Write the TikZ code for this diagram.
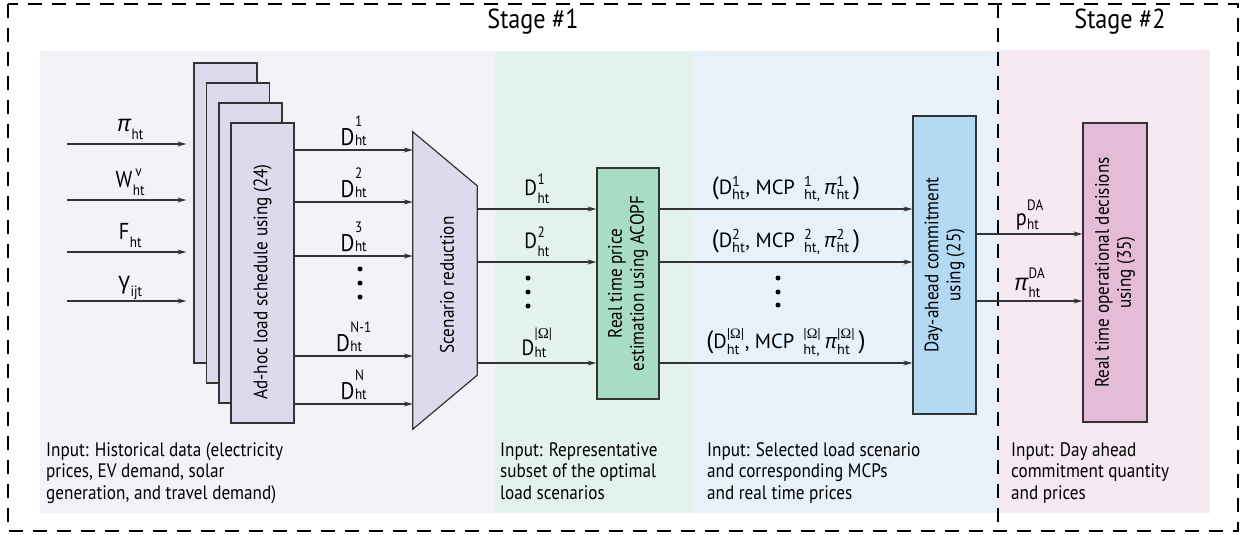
\documentclass[tikz,border=0pt]{standalone}
\usepackage{fontspec}
\usepackage{amsmath}
\setmainfont{PT Sans}[FakeStretch=0.88]
\newfontfamily\ptw{PT Sans}
\newfontfamily\gkfont{Open Sans}
\newfontfamily\omfont{Liberation Serif}
\usetikzlibrary{arrows.meta,calc}

\definecolor{lavbox}{HTML}{DCDAEC}
\definecolor{greenbox}{HTML}{A9DCC5}
\definecolor{bluebox}{HTML}{B4DAF3}
\definecolor{pinkbox}{HTML}{E4BCD8}
\definecolor{lavpanel}{HTML}{F3F2F8}
\definecolor{greenpanel}{HTML}{E3F3EC}
\definecolor{bluepanel}{HTML}{E7F1FA}
\definecolor{pinkpanel}{HTML}{F6E9F2}
\definecolor{edge}{HTML}{333333}

% symbols
\newcommand\gpi{{\gkfont\itshape π}}
\newcommand\ggam{{\gkfont γ}}
\newcommand\Om{|{\omfont Ω}|}
% main symbol with a stacked superscript/subscript; #4 lowers the stack
\newcommand\stk[4]{#1\kern0.5pt\raisebox{-#4}{\fontsize{15}{19}\selectfont
  \begin{tabular}[b]{@{}l@{}}#2\\#3\end{tabular}}}
% scenario triple (D, MCP, pi)
\newcommand\sx[3]{#1$^{\text{#2}}_{\text{#3}}$}
\newcommand\trip[1]{{\fontsize{25}{25}\selectfont(}\sx{D}{#1}{ht}, MCP\;\,$^{\text{#1}}_{\text{ht,}}$\,\sx{\gpi}{#1}{ht}\,{\fontsize{25}{25}\selectfont)}}

\begin{document}
\begin{tikzpicture}[x=1pt,y=-1pt,
  arr/.style={draw=edge,line width=1.1pt,-{Stealth[length=9pt,width=5pt,inset=3pt,fill=gray!45]}},
  boxbase/.style={draw=edge,line width=1.2pt,inner sep=0pt},
  ahbox/.style={boxbase,fill=lavbox,minimum width=63pt,minimum height=300pt},
  rtext/.style={rotate=90,align=center,font=\fontsize{19.5}{22}\selectfont,inner sep=0pt},
  lbl/.style={font=\fontsize{24}{26}\selectfont,inner sep=0pt,midway,anchor=base},
  ilbl/.style={font=\fontsize{23}{26}\selectfont,inner sep=0pt,midway,anchor=base,yshift=13pt},
  glbl/.style={font=\fontsize{22}{26}\selectfont,inner sep=0pt,midway,anchor=base},
  tlbl/.style={font=\ptw\fontsize{20.5}{24}\selectfont,inner sep=0pt,midway,anchor=base,yshift=15pt},
  note/.style={font=\fontsize{19.5}{21.5}\selectfont,align=left,anchor=north west,inner sep=0pt},
  stage/.style={font=\fontsize{27.5}{30}\selectfont,anchor=base,inner sep=0pt},
  border/.style={draw=black,line width=2pt,dash pattern=on 14pt off 10pt},
  vdot/.style={circle,fill=black,inner sep=0pt,minimum size=5pt}]

\useasboundingbox (0,0) rectangle (1242,535);

% coloured stage panels
\fill[lavpanel]   (40,51)  rectangle (495,513);
\fill[greenpanel] (495,51) rectangle (693,513);
\fill[bluepanel]  (693,51) rectangle (998,513);
\fill[pinkpanel]  (998,50) rectangle (1210,513);

% stage frames
\draw[border] (8,4) rectangle (1238,531);
\draw[border] (998,4) -- (998,531);
\node[stage] (st1) at (533,29) {Stage \#1};
\node[stage] (st2) at (1120,29) {Stage \#2};

% stacked ad-hoc schedule boxes
\node[ahbox] (b1) at (225.5,213) {};
\node[ahbox] (b2) at (238,233) {};
\node[ahbox] (b3) at (250.5,253) {};
\node[ahbox] (b4) at (262.5,273) {};
\node[rtext] (t4) at (262.5,282) {Ad-hoc load schedule using (24)};

% input data arrows
\coordinate (in1) at (67,144);
\coordinate (in2) at (67,200);
\coordinate (in3) at (67,252);
\coordinate (in4) at (67,301);
\draw[arr,shorten >=7pt] (in1) -- (in1 -| b1.west) node[ilbl] (lin1) {\stk{\gpi}{}{ht}{8pt}};
\draw[arr,shorten >=7pt] (in2) -- (in2 -| b1.west) node[ilbl] (lin2) {\stk{W}{\,v}{ht}{8pt}};
\draw[arr,shorten >=7pt] (in3) -- (in3 -| b1.west) node[ilbl] (lin3) {\stk{F}{}{ht}{8pt}};
\draw[arr,shorten >=7pt] (in4) -- (in4 -| b1.west) node[ilbl] (lin4) {\stk{\ggam}{}{ijt}{8pt}};

% scenario reduction trapezoid
\node[inner sep=0pt,minimum width=64pt,minimum height=297pt] (sr) at (445,280.5) {};
\draw[draw=edge,line width=1.2pt,fill=lavbox]
  (sr.north west) -- ($(sr.north east)+(0,54)$) -- ($(sr.south east)+(0,-54)$)
  -- (sr.south west) -- cycle;
\node[rtext] (tsr) at (447,285) {Scenario reduction};

% load scenarios into the reduction
\draw[arr] (b4.east |- 0,150) -- (sr.west |- 0,150) node[lbl,yshift=5pt] (d1) {\stk{D}{1}{ht}{0pt}};
\draw[arr] (b4.east |- 0,202) -- (sr.west |- 0,202) node[lbl,yshift=5pt] (d2) {\stk{D}{2}{ht}{0pt}};
\draw[arr] (b4.east |- 0,256) -- (sr.west |- 0,256) node[lbl,yshift=5pt] (d3) {\stk{D}{3}{ht}{0pt}};
\draw[arr] (b4.east |- 0,356) -- (sr.west |- 0,356) node[lbl,yshift=5pt] (dn1) {\stk{D}{N-1}{ht}{0pt}};
\draw[arr] (b4.east |- 0,404) -- (sr.west |- 0,404) node[lbl,yshift=5pt] (dn) {\stk{D}{N}{ht}{0pt}};
\node[vdot] (v1a) at (360,269) {};
\node[vdot] (v1b) at (360,283) {};
\node[vdot] (v1c) at (360,297) {};

% real time price estimation
\node[boxbase,fill=greenbox,minimum width=62pt,minimum height=231pt] (rt) at (628,283.5) {};
\node[rtext] (trt) at (rt.center) {Real time price\\estimation using ACOPF};
\draw[arr] (sr.east |- 0,209) -- (rt.west |- 0,209) node[glbl,yshift=14pt] (r1) {\stk{D}{1}{ht}{8pt}};
\draw[arr] (sr.east |- 0,262) -- (rt.west |- 0,262) node[glbl,yshift=14pt] (r2) {\stk{D}{2}{ht}{8pt}};
\draw[arr] (sr.east |- 0,363) -- (rt.west |- 0,363) node[glbl,yshift=8pt] (r3) {\stk{D}{\Om}{ht}{2pt}};
\node[vdot] (v2a) at (528,278) {};
\node[vdot] (v2b) at (528,292) {};
\node[vdot] (v2c) at (528,306) {};

% day-ahead commitment
\node[boxbase,fill=bluebox,minimum width=63pt,minimum height=298pt] (da) at (944.5,265) {};
\node[rtext] (tda) at (da.center) {Day-ahead commitment\\using (25)};
\draw[arr] (rt.east |- 0,209) -- (da.west |- 0,209) node[tlbl] (m1) {\trip{1}};
\draw[arr] (rt.east |- 0,262) -- (da.west |- 0,262) node[tlbl] (m2) {\trip{2}};
\draw[arr] (rt.east |- 0,363) -- (da.west |- 0,363) node[tlbl] (m3) {\trip{\Om}};
\node[vdot] (v3a) at (778,278) {};
\node[vdot] (v3b) at (778,292) {};
\node[vdot] (v3c) at (778,305) {};

% real time operational decisions
\node[boxbase,fill=pinkbox,minimum width=64pt,minimum height=299pt] (op) at (1115,272.5) {};
\node[rtext] (top) at (op.center) {Real time operational decisions\\using (35)};
\draw[arr] (da.east |- 0,234) -- (op.west |- 0,234) node[ilbl,yshift=-4pt] (p1) {\stk{p}{DA}{ht}{4pt}};
\draw[arr] (da.east |- 0,301) -- (op.west |- 0,301) node[ilbl,yshift=-2pt] (p2) {\stk{\gpi}{DA}{ht}{7pt}};

% panel captions
\node[note] (n1) at (46,442) {Input: Historical data (electricity\\prices, EV demand, solar\\generation, and travel demand)};
\node[note] (n2) at (500,442) {Input: Representative\\subset of the optimal\\load scenarios};
\node[note] (n3) at (707,442) {Input: Selected load scenario\\and corresponding MCPs\\and real time prices};
\node[note] (n4) at (1011,442) {Input: Day ahead\\commitment quantity\\and prices};
\end{tikzpicture}
\end{document}
